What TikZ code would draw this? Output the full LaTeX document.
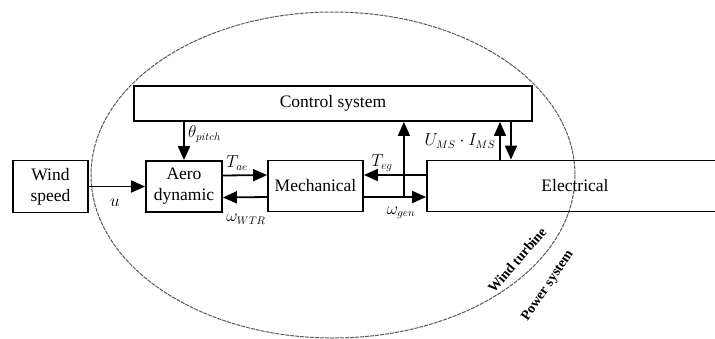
\documentclass[tikz,border=0pt]{standalone}
\usepackage{fontspec}
\setmainfont{Liberation Serif}
\usepackage{tikz}
\usetikzlibrary{arrows.meta,positioning,calc}

\begin{document}
\begin{tikzpicture}[x=1pt, y=-1pt,
    block/.style={rectangle, draw, line width=1.8pt, align=center, inner sep=2pt, font=\fontsize{17.5}{21}\selectfont},
    sig/.style={-{Triangle[length=14pt, width=12pt]}, line width=1.8pt},
    lbl/.style={font=\fontsize{16}{18}\selectfont, inner sep=1pt},
    zone/.style={font=\fontsize{14}{16}\selectfont\bfseries, inner sep=0pt}
]
\useasboundingbox (0,0) rectangle (715,338);

% Boundary of the wind turbine
\draw[gray!70!black, line width=1pt, dash pattern=on 4pt off 1pt] (333,175) ellipse [x radius=242, y radius=163];
\node[zone, rotate=49] (wt) at (517,260) {Wind turbine};
\node[zone, rotate=56] (ps) at (548,286) {Power system};

% Blocks
\node[block, minimum width=398pt, minimum height=35pt] (ctrl) at (333,103.5) {Control system};
\node[block, minimum width=75pt, minimum height=52pt] (wind) at (50.5,186.5) {Wind\\speed};
\node[block, minimum width=76pt, minimum height=51pt] (aero) at (184,186.5) {Aero\\dynamic};
\node[block, minimum width=95pt, minimum height=51pt] (mech) at (315.5,186) {Mechanical};
\node[block, minimum width=296pt, minimum height=51pt] (elec) at (575,186) {Electrical};

% Wind and pitch
\draw[sig] (wind) -- (aero);
\node[lbl] (u) at (115,203) {$u$};
\draw[sig] (ctrl.south -| aero) -- (aero);
\node[lbl, anchor=west] (thp) at (187,134) {$\theta_{pitch}$};

% Shaft
\draw[sig] ([yshift=11pt]aero.east) -- ([yshift=11pt]mech.west);
\node[lbl] (tae) at (237,163) {$T_{ae}$};
\draw[sig] ([yshift=-11pt]mech.west) -- ([yshift=-11pt]aero.east);
\node[lbl] (wwtr) at (246,219) {$\omega_{WTR}$};

% Generator
\draw[sig] ([yshift=11pt]elec.west) -- ([yshift=11pt]mech.east);
\node[lbl] (teg) at (382,163) {$T_{eg}$};
\draw[sig] ([yshift=-11pt]mech.east) -- ([yshift=-11pt]elec.west);
\node[lbl] (wgen) at (401,213) {$\omega_{gen}$};
\coordinate (tap) at ([xshift=40pt, yshift=-11pt]mech.east);
\draw[sig] (tap) -- (tap |- ctrl.south);

% Grid measurements
\coordinate (meas) at (500,0);
\coordinate (cmd) at (511,0);
\draw[sig] (elec.north -| meas) -- (ctrl.south -| meas);
\draw[sig] (ctrl.south -| cmd) -- (elec.north -| cmd);
\node[lbl] (ums) at (460,141) {$U_{MS}\cdot I_{MS}$};

\end{tikzpicture}
\end{document}
